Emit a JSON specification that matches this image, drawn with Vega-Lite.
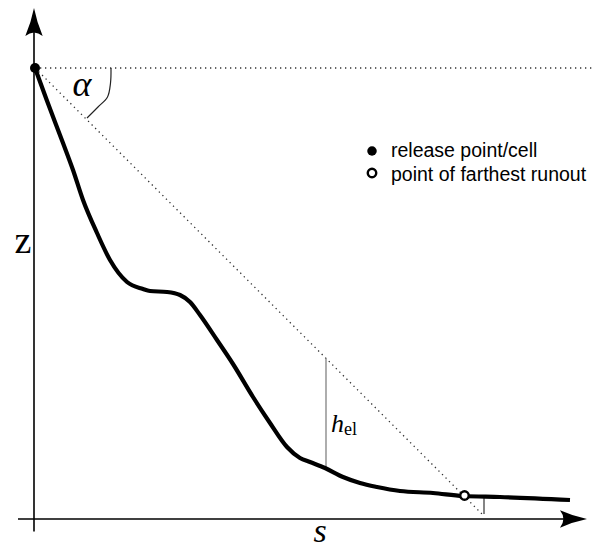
{
  "$schema": "https://vega.github.io/schema/vega-lite/v6.json",
  "width": 592,
  "height": 549,
  "autosize": {"type": "none"},
  "padding": 0,
  "background": "white",
  "config": {"view": {"stroke": null}},
  "datasets": {
    "profile": [
      {"s": 0, "z": 451}, {"s": 11.7, "z": 419}, {"s": 28, "z": 376}, {"s": 38, "z": 349},
      {"s": 48, "z": 319}, {"s": 62, "z": 286}, {"s": 75, "z": 259}, {"s": 92, "z": 237},
      {"s": 108, "z": 230}, {"s": 115, "z": 228}, {"s": 132, "z": 227}, {"s": 145, "z": 224},
      {"s": 155, "z": 217}, {"s": 165, "z": 204}, {"s": 182, "z": 179}, {"s": 198, "z": 155},
      {"s": 218, "z": 122}, {"s": 235, "z": 96}, {"s": 252, "z": 72}, {"s": 265, "z": 61},
      {"s": 275, "z": 57}, {"s": 290, "z": 51}, {"s": 308, "z": 42}, {"s": 325, "z": 36},
      {"s": 342, "z": 32}, {"s": 365, "z": 28}, {"s": 398, "z": 26}, {"s": 428, "z": 23},
      {"s": 465, "z": 22}, {"s": 535, "z": 19}
    ],
    "axes": [
      {"s": -17, "z": 0, "s2": 545, "z2": 0},
      {"s": -1, "z": -12.5, "s2": -1, "z2": 500}
    ],
    "dotted": [
      {"s": 5, "z": 451, "s2": 557, "z2": 451},
      {"s": 0, "z": 451, "s2": 448, "z2": 4}
    ],
    "thin": [
      {"s": 291, "z": 161, "s2": 291, "z2": 51, "c": "#777777"},
      {"s": 449, "z": 21, "s2": 449, "z2": 5, "c": "#333333"}
    ],
    "arc": [
      {"o": 1, "s": 76, "z": 451}, {"o": 2, "s": 75.5, "z": 436}, {"o": 3, "s": 72.5, "z": 422},
      {"o": 4, "s": 63, "z": 412}, {"o": 5, "s": 52, "z": 401}
    ],
    "arrowx": [{"s": 538.5, "z": 0}],
    "arrowy": [{"s": -1, "z": 497}],
    "filled": [{"s": 0, "z": 451, "sz": 100}, {"s": 337, "z": 368, "sz": 90}],
    "open": [{"s": 429.5, "z": 23.5}, {"s": 337, "z": 346}],
    "legend": [
      {"s": 356, "z": 362, "t": "release point/cell"},
      {"s": 356, "z": 338.5, "t": "point of farthest runout"}
    ],
    "italicCenter": [
      {"s": 47, "z": 423, "t": "α", "fs": 36},
      {"s": 285, "z": -23, "t": "s", "fs": 34}
    ],
    "normalCenter": [
      {"s": -12, "z": 266, "t": "z", "fs": 38}
    ],
    "italicLeft": [
      {"s": 296, "z": 87, "t": "h", "fs": 26}
    ],
    "normalLeft": [
      {"s": 309, "z": 84, "t": "el", "fs": 18}
    ]
  },
  "layer": [
    {
      "data": {"name": "axes"},
      "mark": {"type": "rule", "color": "black", "strokeWidth": 1.6},
      "encoding": {
        "x": {"field": "s", "type": "quantitative", "scale": {"domain": [-35, 557], "nice": false, "zero": false}, "axis": null},
        "y": {"field": "z", "type": "quantitative", "scale": {"domain": [-30, 519], "nice": false, "zero": false}, "axis": null},
        "x2": {"field": "s2"},
        "y2": {"field": "z2"}
      }
    },
    {
      "data": {"name": "dotted"},
      "mark": {"type": "rule", "color": "#333333", "strokeWidth": 1.3, "strokeDash": [1.3, 3.7]},
      "encoding": {
        "x": {"field": "s", "type": "quantitative"},
        "y": {"field": "z", "type": "quantitative"},
        "x2": {"field": "s2"},
        "y2": {"field": "z2"}
      }
    },
    {
      "data": {"name": "thin"},
      "mark": {"type": "rule", "strokeWidth": 1.2},
      "encoding": {
        "x": {"field": "s", "type": "quantitative"},
        "y": {"field": "z", "type": "quantitative"},
        "x2": {"field": "s2"},
        "y2": {"field": "z2"},
        "color": {"field": "c", "type": "nominal", "scale": null}
      }
    },
    {
      "data": {"name": "arc"},
      "mark": {"type": "line", "color": "#222222", "strokeWidth": 1.2, "interpolate": "catmull-rom"},
      "encoding": {
        "x": {"field": "s", "type": "quantitative"},
        "y": {"field": "z", "type": "quantitative"},
        "order": {"field": "o", "type": "quantitative"}
      }
    },
    {
      "data": {"name": "profile"},
      "mark": {"type": "line", "color": "black", "strokeWidth": 4.2, "interpolate": "monotone", "strokeCap": "butt"},
      "encoding": {
        "x": {"field": "s", "type": "quantitative"},
        "y": {"field": "z", "type": "quantitative"}
      }
    },
    {
      "data": {"name": "arrowx"},
      "mark": {"type": "point", "filled": true, "color": "black", "opacity": 1, "size": 729,
               "shape": "M1,0 Q0,-0.2 -1,-0.65 Q-0.5,0 -1,0.65 Q0,0.2 1,0 Z"},
      "encoding": {
        "x": {"field": "s", "type": "quantitative"},
        "y": {"field": "z", "type": "quantitative"}
      }
    },
    {
      "data": {"name": "arrowy"},
      "mark": {"type": "point", "filled": true, "color": "black", "opacity": 1, "size": 784,
               "shape": "M0,-1 Q-0.2,0 -0.62,1 Q0,0.5 0.62,1 Q0.2,0 0,-1 Z"},
      "encoding": {
        "x": {"field": "s", "type": "quantitative"},
        "y": {"field": "z", "type": "quantitative"}
      }
    },
    {
      "data": {"name": "filled"},
      "mark": {"type": "circle", "color": "black", "opacity": 1},
      "encoding": {
        "x": {"field": "s", "type": "quantitative"},
        "y": {"field": "z", "type": "quantitative"},
        "size": {"field": "sz", "type": "quantitative", "scale": null}
      }
    },
    {
      "data": {"name": "open"},
      "mark": {"type": "point", "shape": "circle", "filled": false, "fill": "white", "fillOpacity": 1, "stroke": "black", "strokeWidth": 2.4, "opacity": 1, "size": 72},
      "encoding": {
        "x": {"field": "s", "type": "quantitative"},
        "y": {"field": "z", "type": "quantitative"}
      }
    },
    {
      "data": {"name": "legend"},
      "mark": {"type": "text", "align": "left", "baseline": "alphabetic", "font": "Liberation Sans", "fontSize": 19.5, "color": "black"},
      "encoding": {
        "x": {"field": "s", "type": "quantitative"},
        "y": {"field": "z", "type": "quantitative"},
        "text": {"field": "t", "type": "nominal"}
      }
    },
    {
      "data": {"name": "italicCenter"},
      "mark": {"type": "text", "baseline": "alphabetic", "align": "center", "font": "Liberation Serif", "fontStyle": "italic", "color": "black"},
      "encoding": {
        "x": {"field": "s", "type": "quantitative"},
        "y": {"field": "z", "type": "quantitative"},
        "text": {"field": "t", "type": "nominal"},
        "size": {"field": "fs", "type": "quantitative", "scale": null}
      }
    },
    {
      "data": {"name": "normalCenter"},
      "mark": {"type": "text", "baseline": "alphabetic", "align": "center", "font": "Liberation Serif", "color": "black"},
      "encoding": {
        "x": {"field": "s", "type": "quantitative"},
        "y": {"field": "z", "type": "quantitative"},
        "text": {"field": "t", "type": "nominal"},
        "size": {"field": "fs", "type": "quantitative", "scale": null}
      }
    },
    {
      "data": {"name": "italicLeft"},
      "mark": {"type": "text", "baseline": "alphabetic", "align": "left", "font": "Liberation Serif", "fontStyle": "italic", "color": "black"},
      "encoding": {
        "x": {"field": "s", "type": "quantitative"},
        "y": {"field": "z", "type": "quantitative"},
        "text": {"field": "t", "type": "nominal"},
        "size": {"field": "fs", "type": "quantitative", "scale": null}
      }
    },
    {
      "data": {"name": "normalLeft"},
      "mark": {"type": "text", "baseline": "alphabetic", "align": "left", "font": "Liberation Serif", "color": "black"},
      "encoding": {
        "x": {"field": "s", "type": "quantitative"},
        "y": {"field": "z", "type": "quantitative"},
        "text": {"field": "t", "type": "nominal"},
        "size": {"field": "fs", "type": "quantitative", "scale": null}
      }
    }
  ]
}
